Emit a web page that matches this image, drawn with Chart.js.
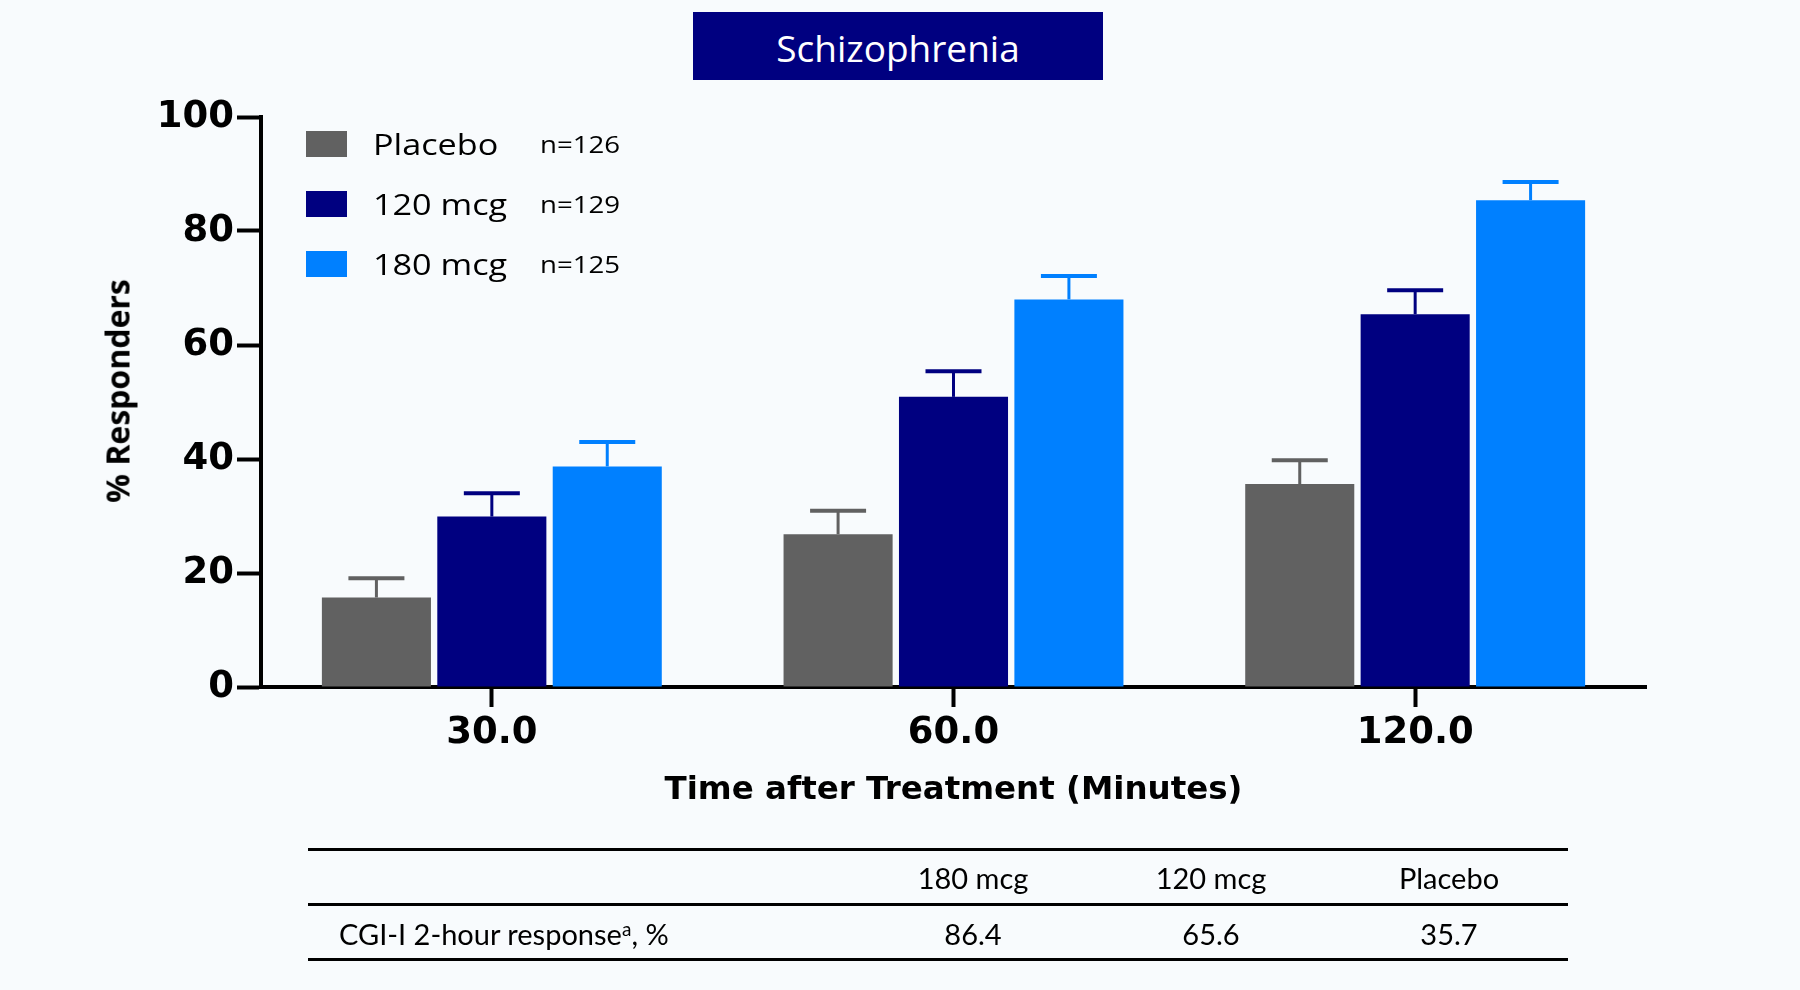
<!DOCTYPE html>
<html>
  <head>
    <meta charset="utf-8" />
    <title>Schizophrenia</title>
    <script src="https://cdn.jsdelivr.net/npm/chart.js@4.4.1/dist/chart.umd.min.js"></script>
    <style>
      html, body { margin: 0; padding: 0; background: #f8fbfd; }
      #wrap { position: relative; width: 1800px; height: 990px; overflow: hidden; }
      #chart { position: absolute; left: 0; top: 0; }
      #title {
        position: absolute; left: 693px; top: 12px; width: 410px; height: 68px;
        background: #000080; color: #fff; font: 37px "Open Sans";
        display: flex; align-items: center; justify-content: center; padding-top: 3px; box-sizing: border-box;
      }
      #ytitle {
        position: absolute; left: 117px; top: 391px; transform: translate(-50%, -50%) rotate(-90deg);
        font: bold 32px "Open Sans"; color: #000; white-space: nowrap;
      }
      #legend { position: absolute; left: 306px; top: 0; }
      .row { position: absolute; left: 0; height: 26px; width: 400px; }
      .sw { position: absolute; left: 0; top: 0; width: 41px; height: 26px; }
      .lab, .n {
        position: absolute; top: 13px; transform: translateY(-50%) scaleX(1.2);
        transform-origin: left center; white-space: nowrap; font-family: "Open Sans"; color: #000;
      }
      .lab { left: 67px; font-size: 28.5px; }
      .n { left: 234px; font-size: 23px; }
      #table { position: absolute; left: 308px; top: 848px; width: 1260px; font-family: Lato; font-size: 29px; color: #000; }
      .hr { position: absolute; left: 0; width: 1260px; height: 3px; background: #000; }
      .cell { position: absolute; transform: translate(-50%, -50%); white-space: nowrap; }
      .first { position: absolute; left: 31px; transform: translateY(-50%); white-space: nowrap; }
      sup { font-size: 19px; vertical-align: 9px; }
    </style>
  </head>
  <body>
    <div id="wrap">
      <canvas id="chart" width="1800" height="990"></canvas>
      <div id="title">Schizophrenia</div>
      <div id="ytitle">% Responders</div>
      <div id="legend"></div>
      <div id="table"></div>
    </div>
    <script>
      const timepoints = ["30.0", "60.0", "120.0"];
      const seriesNames = ["Placebo", "120 mcg", "180 mcg"];
      const sampleSizes = ["n=126", "n=129", "n=125"];
      const seriesColors = ["#616161", "#000080", "#0080ff"];

      const placebo = [15.7, 26.8, 35.6];
      const mcg120 = [29.9, 50.9, 65.4];
      const mcg180 = [38.7, 68.0, 85.4];
      const placeboErr = [3.4, 4.1, 4.2];
      const mcg120Err = [4.1, 4.5, 4.2];
      const mcg180Err = [4.3, 4.1, 3.2];

      const yTicks = [0, 20, 40, 60, 80, 100];

      const tableHeader = ["180 mcg", "120 mcg", "Placebo"];
      const tableRowLabel = "CGI-I 2-hour response";
      const tableValues = ["86.4", "65.6", "35.7"];

      const tickFont = { family: "DejaVu Sans", weight: "bold", size: 37 };

      // upward error bars, placed with the chart's own scales
      const errorBars = {
        id: "errorBars",
        afterDatasetsDraw(chart) {
          const ctx = chart.ctx;
          const y = chart.scales.y;
          chart.data.datasets.forEach((ds, i) => {
            const meta = chart.getDatasetMeta(i);
            meta.data.forEach((bar, j) => {
              const top = y.getPixelForValue(ds.data[j] + ds.errors[j]);
              ctx.save();
              ctx.strokeStyle = ds.backgroundColor;
              ctx.lineWidth = 3;
              ctx.beginPath();
              ctx.moveTo(bar.x, bar.y);
              ctx.lineTo(bar.x, top);
              ctx.stroke();
              ctx.lineWidth = 4;
              ctx.beginPath();
              ctx.moveTo(bar.x - 28, top);
              ctx.lineTo(bar.x + 28, top);
              ctx.stroke();
              ctx.restore();
            });
          });
        }
      };

      const values = [placebo, mcg120, mcg180];
      const errs = [placeboErr, mcg120Err, mcg180Err];

      new Chart(document.getElementById("chart"), {
        type: "bar",
        data: {
          labels: timepoints,
          datasets: seriesNames.map((name, i) => ({
            label: name,
            data: values[i],
            errors: errs[i],
            backgroundColor: seriesColors[i],
            categoryPercentage: 0.75,
            barPercentage: 0.945
          }))
        },
        options: {
          responsive: false,
          animation: false,
          layout: { padding: { top: 117, right: 154, left: 0, bottom: 0 } },
          plugins: { legend: { display: false }, tooltip: { enabled: false } },
          scales: {
            x: {
              afterFit: s => { s.height = 303; },
              grid: {
                offset: false, drawOnChartArea: false, drawTicks: true,
                tickLength: 20, tickWidth: 4, tickColor: "#000"
              },
              border: { color: "#000", width: 4 },
              ticks: { color: "#000", font: tickFont, padding: 4 },
              title: {
                display: true,
                text: "Time after Treatment (Minutes)",
                color: "#000",
                font: { family: "DejaVu Sans", weight: "bold", size: 32.5 },
                padding: { top: 0, bottom: 180 }
              }
            },
            y: {
              min: 0,
              max: 100,
              afterFit: s => { s.width = 261; },
              afterBuildTicks: s => { s.ticks = yTicks.map(v => ({ value: v })); },
              grid: {
                drawOnChartArea: false, drawTicks: true,
                tickLength: 24, tickWidth: 4, tickColor: "#000"
              },
              border: { color: "#000", width: 4 },
              ticks: { color: "#000", font: tickFont, padding: 3 }
            }
          }
        },
        plugins: [errorBars]
      });

      // legend
      const legend = document.getElementById("legend");
      const rowTops = [131, 191, 251];
      seriesNames.forEach((name, i) => {
        const row = document.createElement("div");
        row.className = "row";
        row.style.top = rowTops[i] + "px";
        row.innerHTML =
          '<div class="sw" style="background:' + seriesColors[i] + '"></div>' +
          '<div class="lab">' + name + "</div>" +
          '<div class="n">' + sampleSizes[i] + "</div>";
        legend.appendChild(row);
      });

      // table under the chart
      const table = document.getElementById("table");
      const colX = [665, 903, 1141];
      let html = '<div class="hr" style="top:0"></div><div class="hr" style="top:55px"></div><div class="hr" style="top:110px"></div>';
      tableHeader.forEach((h, i) => {
        html += '<div class="cell" style="left:' + colX[i] + 'px;top:29px">' + h + "</div>";
      });
      html += '<div class="first" style="top:85px">' + tableRowLabel + "<sup>a</sup>, %</div>";
      tableValues.forEach((v, i) => {
        html += '<div class="cell" style="left:' + colX[i] + 'px;top:85px">' + v + "</div>";
      });
      table.innerHTML = html;
    </script>
  </body>
</html>
